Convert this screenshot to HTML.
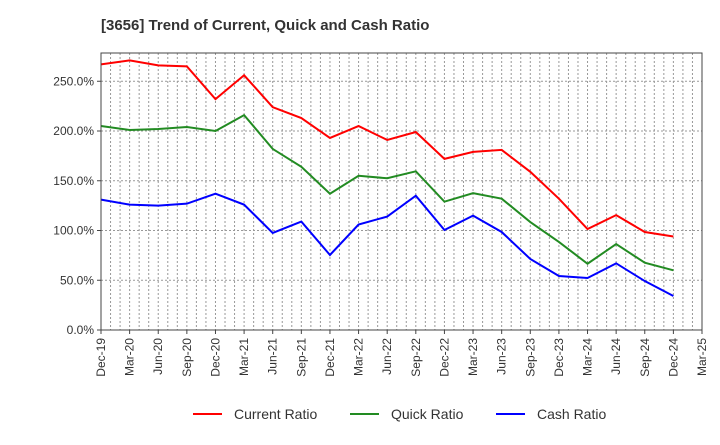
<!DOCTYPE html>
<html><head><meta charset="utf-8"><style>
body{margin:0;background:#fff;}
svg{font-family:"Liberation Sans",sans-serif;}
</style></head><body>
<svg width="720" height="440" xmlns="http://www.w3.org/2000/svg">
<text x="101" y="30" font-size="15" font-weight="bold" fill="#333">[3656]  Trend of Current, Quick and Cash Ratio</text>
<g id="grid"></g>
<g id="axes"></g>
<g id="series"></g>
<rect x="101" y="53" width="601" height="277" fill="none" stroke="#444" stroke-width="1"/>
<g id="legend"></g>
</svg>
<script>
const categories=["Dec-19","Mar-20","Jun-20","Sep-20","Dec-20","Mar-21","Jun-21","Sep-21","Dec-21","Mar-22","Jun-22","Sep-22","Dec-22","Mar-23","Jun-23","Sep-23","Dec-23","Mar-24","Jun-24","Sep-24","Dec-24","Mar-25"];
const currentRatio=[267,271,266,265,232,256,224,213,193,205,191,199,172,179,181,159,132,101.5,115.5,98.5,94];
const quickRatio=[205,201,202,204,200,216,182,164,137,155,152.5,159.5,129,137.5,132,108.5,88.5,66.6,86.4,67.6,60];
const cashRatio=[131,126,125,127,137,126,97.5,109,75.4,106,114,135,100.5,115,98.5,71.4,54.3,52.3,67,49.2,34.2];
const yTicks=[0,50,100,150,200,250];
const yTickLabels=["0.0%","50.0%","100.0%","150.0%","200.0%","250.0%"];
const seriesNames=["Current Ratio","Quick Ratio","Cash Ratio"];
const NS="http://www.w3.org/2000/svg";
const L=101,R=702,T=53,B=330,YMAX=278.4;
const step=(R-L)/(categories.length-1);
const xs=i=>L+i*step;
const ys=v=>B-v/YMAX*(B-T);
function mk(tag,attrs,parent){const e=document.createElementNS(NS,tag);for(const k in attrs)e.setAttribute(k,attrs[k]);parent.appendChild(e);return e;}
const grid=document.getElementById('grid'),axes=document.getElementById('axes'),ser=document.getElementById('series'),leg=document.getElementById('legend');
// monthly vertical grid
for(let m=1;m<(categories.length-1)*3;m++){const x=L+m*step/3;
const g=mk('line',{x1:x,x2:x,y1:T,y2:B,stroke:'#999','stroke-dasharray':'2,2','stroke-width':1},grid);

}
yTicks.forEach((v,i)=>{const y=ys(v);
if(v>0){const g=mk('line',{x1:L,x2:R,y1:y,y2:y,stroke:'#999','stroke-dasharray':'2,2','stroke-width':1},grid);

}
mk('line',{x1:L-4,x2:L,y1:y,y2:y,stroke:'#444'},axes);
const t=mk('text',{x:L-7,y:y+4,'text-anchor':'end','font-size':12,fill:'#333'},axes);t.textContent=yTickLabels[i];

});
categories.forEach((c,i)=>{const x=xs(i);
mk('line',{x1:x,x2:x,y1:B,y2:B+4,stroke:'#444'},axes);
const t=mk('text',{x:x+4,y:B+8,'text-anchor':'end','font-size':12,fill:'#333',transform:`rotate(-90 ${x+4} ${B+8})`},axes);t.textContent=c;

});
const colors=['#ff0000','#228b22','#0000ff'];
[currentRatio,quickRatio,cashRatio].forEach((arr,s)=>{
const p=mk('polyline',{points:arr.map((v,i)=>xs(i)+','+ys(v)).join(' '),fill:'none',stroke:colors[s],'stroke-width':2},ser);


const lx=[193,350,496][s];
const g=mk('g',{},leg);


mk('line',{x1:lx,x2:lx+29,y1:414,y2:414,stroke:colors[s],'stroke-width':2},g);
const t=mk('text',{x:lx+41,y:419,'font-size':14,fill:'#333'},g);t.textContent=seriesNames[s];});
</script>
</body></html>
